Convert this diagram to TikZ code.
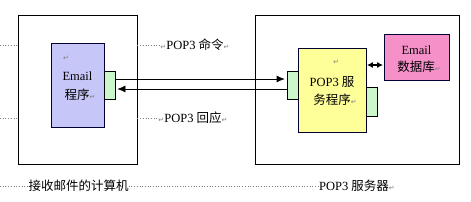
\documentclass[tikz,border=0pt]{standalone}
\usepackage{fontspec}
\setmainfont{Liberation Serif}
\newfontfamily\cjk{Noto Sans CJK SC}
\newfontfamily\symf{DejaVu Sans}
\usetikzlibrary{arrows.meta}
\definecolor{lav}{HTML}{C6C6F8}
\definecolor{portg}{HTML}{CCF7CC}
\definecolor{yel}{HTML}{FFFF99}
\definecolor{pnk}{HTML}{F590C8}
\definecolor{dots}{HTML}{808080}
\newcommand{\retmark}{{\symf\color{gray}\fontsize{7}{8}\selectfont ↵}}
\tikzset{
  outer/.style={draw=black, line width=0.8pt, inner sep=0pt},
  prog/.style={draw=black!80!blue, line width=0.8pt, inner sep=0pt},
  port/.style={draw=black, line width=0.7pt, fill=portg, inner sep=0pt, minimum width=11pt},
  lbl/.style={inner sep=0pt, font=\fontsize{12.5}{14}\selectfont},
  flow/.style={line width=0.7pt, -{Latex[length=8pt,width=7pt]}, shorten >=2pt},
  dotline/.style={dots, dotted, line width=0.7pt}
}
\begin{document}
\begin{tikzpicture}[x=1pt,y=-1pt]
\useasboundingbox (0,0) rectangle (471,201);
% outer boxes
\node[outer, minimum width=119pt, minimum height=149pt] (client) at (77.5,89.5) {};
\node[outer, minimum width=204pt, minimum height=149pt] (server) at (357,89.5) {};
% programs
\node[prog, fill=lav, minimum width=53pt, minimum height=84pt] (email) at (77.5,85) {};
\node[port, minimum height=28pt] (pl) at (109.5,85) {};
\node[prog, fill=yel, minimum width=68pt, minimum height=84pt] (pop) at (332,90) {};
\node[port, minimum height=28pt] (pr1) at (292.5,85) {};
\node[port, minimum height=29pt] (pr2) at (371.5,101.5) {};
\node[prog, fill=pnk, minimum width=65pt, minimum height=46pt] (db) at (416.5,57) {};
% texts inside
\node[lbl] (e0) at (66,58) {\retmark};
\node[lbl] (e1) at (77.5,76) {Email};
\node[lbl] (e2) at (80,95) {\cjk 程序\retmark};
\node[lbl] (p0) at (336,62) {\retmark};
\node[lbl] (p1) at (332,82) {POP3 {\cjk 服}};
\node[lbl] (p2) at (335,100) {\cjk 务程序\retmark};
\node[lbl] (d1) at (416.5,50) {Email};
\node[lbl] (d2) at (419,67) {\cjk 数据库\retmark};
% outer labels
\node[lbl] (cmd) at (195,45) {\retmark POP3 {\cjk 命令}\retmark};
\node[lbl] (resp) at (193,118) {\retmark POP3 {\cjk 回应}\retmark};
\node[lbl] (comp) at (78.5,186) {\cjk 接收邮件的计算机};
\node[lbl] (srv) at (357,186) {POP3 {\cjk 服务器}\retmark};
% dotted text-box guides
\draw[dotline] (0,45) -- (client.west |- 0,45);
\draw[dotline] (client.east |- 0,45) -- (cmd.west);
\draw[dotline] (0,118) -- (client.west |- 0,118);
\draw[dotline] (client.east |- 0,118) -- (resp.west);
\draw[dotline] (0,186) -- (comp.west);
\draw[dotline] (comp.east) -- (srv.west);
% connectors
\draw[flow] ([yshift=6pt]pl.east) -- ([yshift=6pt]pr1.west);
\draw[flow] ([yshift=-4pt]pr1.west) -- ([yshift=-4pt]pl.east);
\coordinate (da) at ([yshift=25pt]pop.east);
\draw[line width=1.2pt, {Latex[length=6pt,width=6pt]}-{Latex[length=6pt,width=6pt]}, shorten <=0.5pt, shorten >=0.5pt] (da) -- (da -| db.west);
\end{tikzpicture}
\end{document}
